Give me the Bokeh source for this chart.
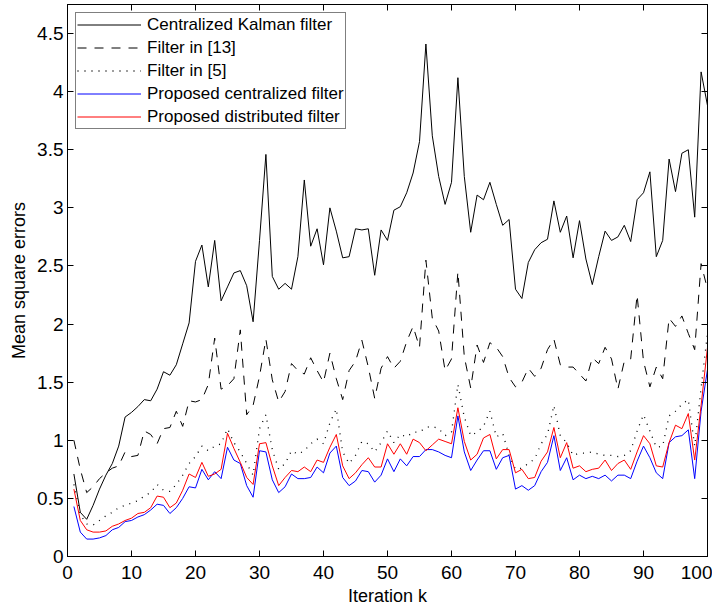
from bokeh.plotting import figure
from bokeh.models import Range1d, LinearAxis, Legend, LegendItem, FixedTicker
from bokeh.embed import file_html
from bokeh.resources import INLINE

k = list(range(1, 101))

centralized_kf = [0.71, 0.38, 0.32, 0.44, 0.58, 0.70, 0.80, 0.95, 1.20, 1.24,
                  1.29, 1.35, 1.34, 1.44, 1.59, 1.56, 1.65, 1.83, 2.01, 2.54,
                  2.68, 2.32, 2.72, 2.20, 2.32, 2.44, 2.46, 2.33, 2.02, 2.72,
                  3.46, 2.41, 2.30, 2.35, 2.30, 2.58, 3.24, 2.67, 2.82, 2.51,
                  3.00, 2.80, 2.57, 2.58, 2.82, 2.81, 2.82, 2.42, 2.81, 2.72,
                  2.98, 3.01, 3.13, 3.30, 3.57, 4.41, 3.62, 3.27, 3.03, 3.22,
                  4.12, 3.27, 2.79, 3.11, 3.07, 3.22, 3.03, 2.85, 2.90, 2.30,
                  2.22, 2.53, 2.64, 2.70, 2.73, 3.06, 2.79, 2.93, 2.57, 2.89,
                  2.56, 2.34, 2.58, 2.80, 2.72, 2.75, 2.85, 2.71, 3.07, 3.13,
                  3.31, 2.58, 2.72, 3.42, 3.14, 3.47, 3.50, 2.92, 4.17, 3.88]

filter_13 = [1.00, 0.75, 0.55, 0.60, 0.67, 0.72, 0.76, 0.78, 0.90, 0.86,
             0.87, 1.08, 1.05, 0.97, 1.10, 1.11, 1.25, 1.12, 1.34, 1.33,
             1.35, 1.48, 1.88, 1.44, 1.47, 1.53, 1.95, 1.22, 1.30, 1.55,
             1.87, 1.52, 1.33, 1.42, 1.66, 1.60, 1.57, 1.71, 1.60, 1.50,
             1.75, 1.53, 1.35, 1.60, 1.68, 1.86, 1.63, 1.36, 1.62, 1.72,
             1.62, 1.68, 1.85, 1.98, 1.80, 2.55, 2.05, 1.94, 1.60, 1.70,
             2.45, 1.72, 1.45, 1.82, 1.67, 1.84, 1.80, 1.72, 1.54, 1.46,
             1.50, 1.62, 1.55, 1.62, 1.78, 1.87, 1.65, 1.63, 1.63, 1.57,
             1.51, 1.71, 1.66, 1.80, 1.70, 1.44, 1.68, 1.70, 2.25, 1.68,
             1.46, 1.63, 1.53, 2.05, 1.98, 2.07, 1.92, 1.78, 2.52, 2.30]

filter_5 = [0.62, 0.36, 0.28, 0.27, 0.31, 0.35, 0.38, 0.42, 0.44, 0.46,
            0.48, 0.52, 0.55, 0.62, 0.57, 0.56, 0.62, 0.70, 0.80, 0.86,
            0.95, 0.91, 0.95, 0.97, 1.10, 0.98, 0.90, 0.80, 0.70, 1.10,
            1.22, 0.92, 0.75, 0.80, 0.91, 0.88, 0.91, 0.97, 1.01, 0.97,
            1.15, 1.27, 0.90, 0.80, 0.87, 0.99, 0.97, 0.90, 0.98, 1.08,
            0.98, 1.05, 1.03, 1.07, 1.07, 1.11, 1.12, 1.10, 1.04, 1.07,
            1.48, 1.20, 1.04, 1.07, 1.12, 1.25, 1.03, 1.06, 0.87, 0.75,
            0.76, 0.80, 0.84, 0.97, 1.05, 1.30, 1.04, 0.98, 0.87, 0.89,
            0.89, 0.90, 0.88, 0.87, 0.87, 0.86, 0.87, 0.91, 1.08, 1.22,
            1.08, 0.94, 0.95, 1.21, 1.25, 1.31, 1.35, 0.95, 1.45, 1.92]

proposed_centralized = [0.43, 0.21, 0.15, 0.15, 0.16, 0.18, 0.23, 0.25, 0.30, 0.31,
                        0.34, 0.36, 0.40, 0.45, 0.44, 0.37, 0.42, 0.50, 0.60, 0.59,
                        0.75, 0.66, 0.73, 0.67, 0.94, 0.83, 0.80, 0.61, 0.51, 0.91,
                        0.90, 0.66, 0.55, 0.60, 0.71, 0.67, 0.67, 0.68, 0.77, 0.72,
                        0.89, 0.95, 0.68, 0.61, 0.65, 0.74, 0.73, 0.64, 0.70, 0.84,
                        0.73, 0.84, 0.78, 0.86, 0.86, 0.92, 0.92, 0.90, 0.87, 0.85,
                        1.21, 0.90, 0.74, 0.83, 0.91, 0.91, 0.75, 0.85, 0.87, 0.58,
                        0.61, 0.57, 0.61, 0.73, 0.81, 1.04, 0.74, 0.85, 0.66, 0.70,
                        0.67, 0.69, 0.67, 0.70, 0.65, 0.70, 0.70, 0.67, 0.82, 0.95,
                        0.85, 0.72, 0.67, 0.98, 1.03, 1.04, 1.09, 0.67, 1.25, 1.61]

proposed_distributed = [0.58, 0.31, 0.23, 0.21, 0.21, 0.22, 0.26, 0.28, 0.31, 0.33,
                        0.37, 0.38, 0.42, 0.52, 0.51, 0.42, 0.46, 0.57, 0.71, 0.68,
                        0.81, 0.69, 0.71, 0.75, 1.06, 0.93, 0.81, 0.68, 0.62, 0.97,
                        0.98, 0.78, 0.61, 0.68, 0.74, 0.73, 0.77, 0.73, 0.83, 0.81,
                        0.94, 1.05, 0.78, 0.67, 0.72, 0.79, 0.85, 0.77, 0.77, 0.97,
                        0.88, 0.97, 0.88, 1.01, 0.98, 0.91, 0.96, 1.01, 0.99, 0.97,
                        1.28, 0.99, 0.83, 0.88, 1.02, 1.05, 0.84, 0.92, 0.92, 0.72,
                        0.75, 0.67, 0.68, 0.82, 0.90, 1.11, 0.85, 0.98, 0.76, 0.78,
                        0.73, 0.75, 0.76, 0.83, 0.74, 0.80, 0.83, 0.75, 0.90, 1.04,
                        0.97, 0.78, 0.77, 0.98, 1.13, 1.10, 1.23, 0.83, 1.30, 1.80]

labels = ["Centralized Kalman filter", "Filter in [13]", "Filter in [5]",
          "Proposed centralized filter", "Proposed distributed filter"]
x_ticks = [0, 10, 20, 30, 40, 50, 60, 70, 80, 90, 100]
y_ticks = [0, 0.5, 1, 1.5, 2, 2.5, 3, 3.5, 4, 4.5]

FONT = "Liberation Sans"

p = figure(width=712, height=608, output_backend="svg", toolbar_location=None,
           x_range=Range1d(0, 100), y_range=Range1d(0, 4.75),
           min_border_left=67, min_border_right=5, min_border_top=4,
           min_border_bottom=50)
p.xgrid.visible = False
p.ygrid.visible = False
p.outline_line_color = "black"
p.outline_line_width = 1
p.background_fill_color = "white"
p.border_fill_color = "white"

def style_axis(ax, ticks, show_labels=True):
    ax.ticker = FixedTicker(ticks=ticks)
    ax.major_tick_in = 6
    ax.major_tick_out = 0
    ax.minor_tick_in = 0
    ax.minor_tick_out = 0
    ax.axis_line_color = "black"
    ax.major_tick_line_color = "black"
    ax.major_label_text_font = FONT
    if show_labels:
        ax.major_label_text_font_size = "19px"
        ax.major_label_text_color = "black"
    else:
        ax.major_label_text_font_size = "0px"
        ax.major_label_text_color = None
        ax.major_label_standoff = 0

style_axis(p.xaxis[0], x_ticks)
style_axis(p.yaxis[0], y_ticks)
p.xaxis[0].major_label_standoff = 9
p.yaxis[0].major_label_standoff = 4
p.xaxis[0].axis_label = "Iteration k"
p.yaxis[0].axis_label = "Mean square errors"
for ax in (p.xaxis[0], p.yaxis[0]):
    ax.axis_label_text_font = FONT
    ax.axis_label_text_font_size = "18px"
    ax.axis_label_text_font_style = "normal"
    ax.axis_label_text_color = "black"
p.xaxis[0].axis_label_standoff = 4
p.yaxis[0].axis_label_standoff = 5

top_ax = LinearAxis()
style_axis(top_ax, x_ticks, show_labels=False)
p.add_layout(top_ax, "above")
right_ax = LinearAxis()
style_axis(right_ax, y_ticks, show_labels=False)
p.add_layout(right_ax, "right")

r1 = p.line(k, centralized_kf, line_color="black", line_width=1)
r2 = p.line(k, filter_13, line_color="black", line_width=1, line_dash="9 8")
r3 = p.line(k, filter_5, line_color="black", line_width=1.3, line_dash="1 6")
r4 = p.line(k, proposed_centralized, line_color="#0000ff", line_width=1)
r5 = p.line(k, proposed_distributed, line_color="#ff0000", line_width=1)

legend = Legend(items=[LegendItem(label=lab, renderers=[r])
                       for lab, r in zip(labels, [r1, r2, r3, r4, r5])],
                location=(8, 427))
legend.label_text_font = FONT
legend.label_text_font_size = "17px"
legend.label_text_color = "black"
legend.label_height = 21
legend.glyph_height = 21
legend.glyph_width = 64
legend.label_standoff = 6
legend.spacing = 2
legend.padding = 1
legend.margin = 0
legend.border_line_color = "black"
legend.border_line_width = 1
legend.background_fill_color = "white"
legend.background_fill_alpha = 1
p.add_layout(legend)

open("out.html", "w").write(file_html(p, INLINE))
